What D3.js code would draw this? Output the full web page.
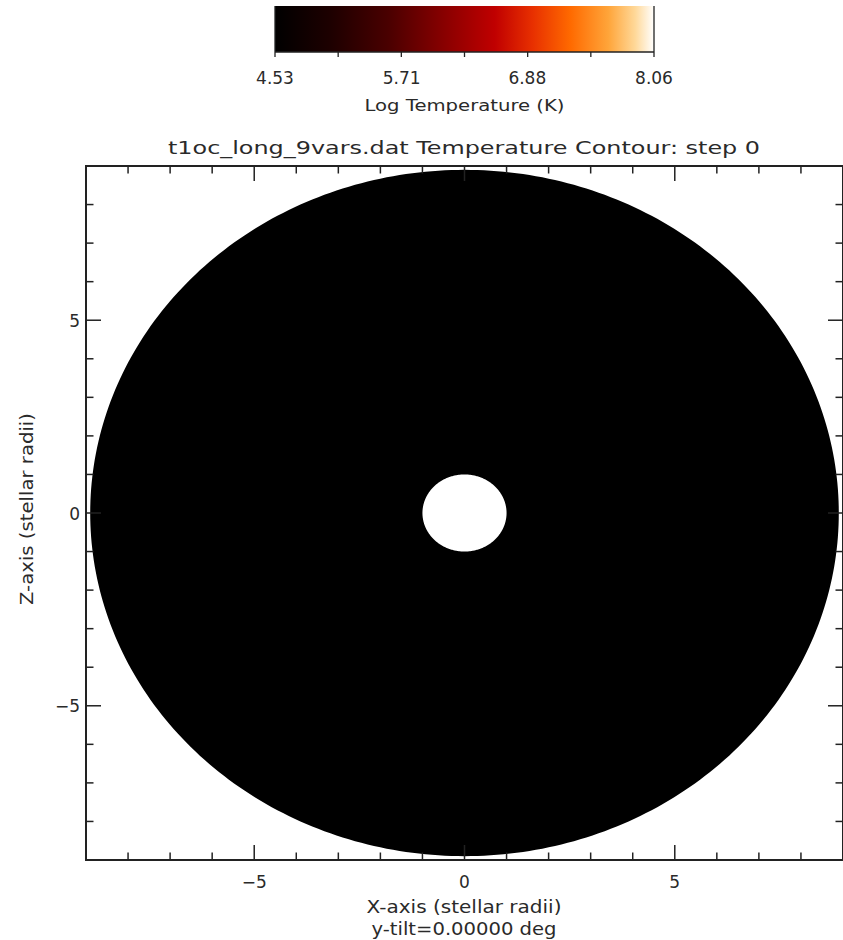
<!DOCTYPE html>
<html>
<head>
<meta charset="utf-8">
<script src="https://cdn.jsdelivr.net/npm/d3@7"></script>
<style>
  html, body { margin: 0; padding: 0; background: #fff; }
  svg { display: block; }
  text { font-family: "DejaVu Sans", "Liberation Sans", sans-serif; fill: #2a2a2a; }
</style>
</head>
<body>
<svg id="chart" width="843" height="940"></svg>
<script>
// ---- data ----
const titleText = "t1oc_long_9vars.dat Temperature Contour: step 0";
const xLabel = "X-axis (stellar radii)";
const subLabel = "y-tilt=0.00000 deg";
const yLabel = "Z-axis (stellar radii)";
const cbLabel = "Log Temperature (K)";
const xDomain = [-9, 9];
const yDomain = [-9, 9];
const majorTicks = [-5, 0, 5];
const minorTicks = [-8, -7, -6, -4, -3, -2, -1, 1, 2, 3, 4, 6, 7, 8];
const cbDomain = [4.53, 8.06];
const cbTickLabels = ["4.53", "5.71", "6.88", "8.06"];
const cbTickCount = 7;
// disk: inner radius, outer radius, log temperature value
const ringInner = [1.0];
const ringOuter = [8.9];
const ringTemp = [4.53];
// colour-table stops (IDL "red temperature"-like)
const cmapStops = [0, 0.15, 0.3, 0.45, 0.58, 0.68, 0.78, 0.88, 0.95, 1];
const cmapColors = ["#000000", "#1e0000", "#4a0000", "#8a0000", "#c00000", "#e83000", "#ff6a00", "#ffa53a", "#ffd898", "#ffffff"];

// ---- layout ----
const svg = d3.select("#chart");
const plot = { left: 86, right: 843, top: 166, bottom: 860 };
const cb = { left: 275, right: 654, top: 6, bottom: 52 };

const x = d3.scaleLinear().domain(xDomain).range([plot.left, plot.right]);
const y = d3.scaleLinear().domain(yDomain).range([plot.bottom, plot.top]);
const color = d3.scaleLinear()
  .domain(cmapStops.map(s => cbDomain[0] + s * (cbDomain[1] - cbDomain[0])))
  .range(cmapColors);

// ---- colorbar ----
const defs = svg.append("defs");
const grad = defs.append("linearGradient").attr("id", "cbgrad")
  .attr("x1", "0%").attr("x2", "100%").attr("y1", "0%").attr("y2", "0%");
cmapStops.forEach((s, i) => {
  grad.append("stop").attr("offset", (s * 100) + "%").attr("stop-color", cmapColors[i]);
});
svg.append("rect")
  .attr("x", cb.left).attr("y", cb.top)
  .attr("width", cb.right - cb.left).attr("height", cb.bottom - cb.top)
  .attr("fill", "url(#cbgrad)");

const cbx = d3.scaleLinear().domain(cbDomain).range([cb.left, cb.right]);
const cbTicks = d3.range(cbTickCount).map(i => cbDomain[0] + i * (cbDomain[1] - cbDomain[0]) / (cbTickCount - 1));
svg.append("g").selectAll("line").data(cbTicks).join("line")
  .attr("x1", d => cbx(d)).attr("x2", d => cbx(d))
  .attr("y1", cb.bottom).attr("y2", cb.bottom + 5)
  .attr("stroke", "#222").attr("stroke-width", 1.3);
svg.append("line").attr("x1", cb.left).attr("x2", cb.right)
  .attr("y1", cb.bottom).attr("y2", cb.bottom).attr("stroke", "#222").attr("stroke-width", 1.3);
svg.append("line").attr("x1", cb.left).attr("x2", cb.left)
  .attr("y1", cb.top).attr("y2", cb.bottom).attr("stroke", "#222").attr("stroke-width", 1.3);
svg.append("line").attr("x1", cb.right).attr("x2", cb.right)
  .attr("y1", cb.top).attr("y2", cb.bottom).attr("stroke", "#222").attr("stroke-width", 1.3);

svg.append("g").selectAll("text").data(cbTickLabels).join("text")
  .attr("x", d => cbx(+d)).attr("y", 83.5)
  .attr("text-anchor", "middle").attr("font-size", 17)
  .text(d => d);
svg.append("text").attr("x", (cb.left + cb.right) / 2).attr("y", 110.5)
  .attr("text-anchor", "middle").attr("font-size", 16)
  .attr("textLength", 200).attr("lengthAdjust", "spacingAndGlyphs")
  .text(cbLabel);

// ---- title ----
svg.append("text").attr("x", 464).attr("y", 153.5)
  .attr("text-anchor", "middle").attr("font-size", 17)
  .attr("textLength", 592).attr("lengthAdjust", "spacingAndGlyphs")
  .text(titleText);

// ---- disk ----
const clip = defs.append("clipPath").attr("id", "plotclip");
clip.append("rect").attr("x", plot.left).attr("y", plot.top)
  .attr("width", plot.right - plot.left).attr("height", plot.bottom - plot.top);

const angles = d3.range(0, 361, 1).map(a => a * Math.PI / 180);
function ringPath(r0, r1) {
  const outer = angles.map(t => [x(r1 * Math.cos(t)), y(r1 * Math.sin(t))]);
  const inner = angles.map(t => [x(r0 * Math.cos(t)), y(r0 * Math.sin(t))]);
  const line = d3.line();
  return line(outer) + "Z" + line(inner.reverse()) + "Z";
}
svg.append("g").attr("clip-path", "url(#plotclip)")
  .selectAll("path").data(ringTemp).join("path")
  .attr("d", (d, i) => ringPath(ringInner[i], ringOuter[i]))
  .attr("fill", d => color(d))
  .attr("fill-rule", "evenodd");

// ---- axes ----
const axisColor = "#222";
const g = svg.append("g").attr("stroke", axisColor).attr("stroke-width", 1.5);
// frame
g.append("rect").attr("x", plot.left).attr("y", plot.top)
  .attr("width", plot.right - plot.left).attr("height", plot.bottom - plot.top)
  .attr("fill", "none").attr("stroke-width", 2);

function tickSet(vals, len) {
  g.append("g").selectAll("line").data(vals).join("line")
    .attr("x1", d => x(d)).attr("x2", d => x(d))
    .attr("y1", plot.bottom).attr("y2", plot.bottom - len);
  g.append("g").selectAll("line").data(vals).join("line")
    .attr("x1", d => x(d)).attr("x2", d => x(d))
    .attr("y1", plot.top).attr("y2", plot.top + len);
  g.append("g").selectAll("line").data(vals).join("line")
    .attr("y1", d => y(d)).attr("y2", d => y(d))
    .attr("x1", plot.left).attr("x2", plot.left + len);
  g.append("g").selectAll("line").data(vals).join("line")
    .attr("y1", d => y(d)).attr("y2", d => y(d))
    .attr("x1", plot.right).attr("x2", plot.right - len);
}
tickSet(majorTicks, 15);
tickSet(minorTicks, 7.5);

const fmt = d => d < 0 ? "\u2212" + Math.abs(d) : String(d);
svg.append("g").selectAll("text").data(majorTicks).join("text")
  .attr("x", d => x(d)).attr("y", 888)
  .attr("text-anchor", "middle").attr("font-size", 17)
  .text(fmt);
svg.append("g").selectAll("text").data(majorTicks).join("text")
  .attr("x", 80).attr("y", d => y(d) + 6.5)
  .attr("text-anchor", "end").attr("font-size", 17)
  .text(fmt);

svg.append("text").attr("x", 464).attr("y", 913)
  .attr("text-anchor", "middle").attr("font-size", 17)
  .attr("textLength", 195).attr("lengthAdjust", "spacingAndGlyphs")
  .text(xLabel);
svg.append("text").attr("x", 464).attr("y", 935)
  .attr("text-anchor", "middle").attr("font-size", 17)
  .attr("textLength", 185).attr("lengthAdjust", "spacingAndGlyphs")
  .text(subLabel);
svg.append("text")
  .attr("transform", "translate(33,509) rotate(-90)")
  .attr("text-anchor", "middle").attr("font-size", 17)
  .attr("textLength", 192).attr("lengthAdjust", "spacingAndGlyphs")
  .text(yLabel);
</script>
</body>
</html>
